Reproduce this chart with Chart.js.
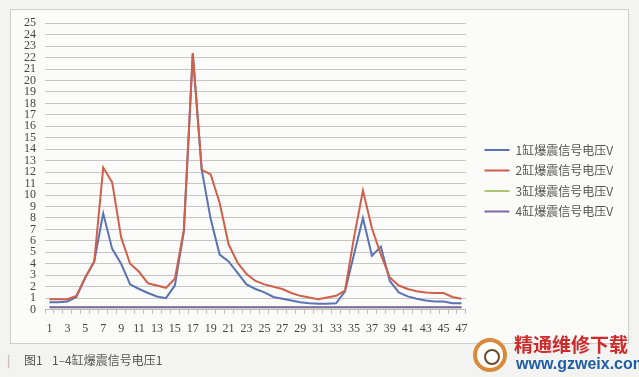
<!DOCTYPE html>
<html>
<head>
<meta charset="utf-8">
<script src="https://cdn.jsdelivr.net/npm/chart.js@4.4.1/dist/chart.umd.min.js"></script>
<style>
  html, body { margin:0; padding:0; }
  body { width:639px; height:377px; background:#f3f3f1; position:relative; overflow:hidden; font-family:"Noto Sans CJK SC", sans-serif; }
  #frame { position:absolute; left:10px; top:9px; width:617px; height:333px; border:1px solid #cfcfcf; background:#fbfbfa; }
  #c { position:absolute; left:0; top:-3px; }
  .cap { position:absolute; top:351px; font-size:12px; color:#555; white-space:pre; }
  #logo { position:absolute; left:473px; top:338px; width:34px; height:34px; border-radius:50%; border:4px solid #d98a3c; box-sizing:border-box; background:#fff; }
  #logo::after { content:""; position:absolute; left:7px; top:7px; width:12px; height:12px; border-radius:50%; border:2px solid #6b4a2a; }
  #wm1 { position:absolute; left:514px; top:330px; font-size:19px; font-weight:bold; color:#cf2a2a; }
  #wm2 { position:absolute; left:516px; top:355px; font-size:16px; font-weight:bold; color:#1f5ea6; font-family:"Liberation Sans Narrow", "Liberation Sans", sans-serif; }
</style>
</head>
<body>
<div id="frame"><canvas id="c" width="617" height="345"></canvas></div>
<div class="cap" style="left:7px;color:#aaa;">|</div>
<div class="cap" style="left:24px;">图1</div>
<div class="cap" style="left:52px;">1–4缸爆震信号电压1</div>
<div id="logo"></div>
<div id="wm1">精通维修下载</div>
<div id="wm2">www.gzweix.com</div>
<script>
const categories = [];
for (let i = 1; i <= 47; i++) categories.push(String(i));

const seriesNames = ["1缸爆震信号电压V", "2缸爆震信号电压V", "3缸爆震信号电压V", "4缸爆震信号电压V"];

const cyl1 = [0.65,0.65,0.7,1.1,2.8,4.2,8.4,5.3,4.0,2.2,
              1.8,1.45,1.15,1.0,2.1,6.8,22.3,12.2,7.9,4.8,
              4.2,3.2,2.2,1.8,1.5,1.1,0.95,0.8,0.65,0.55,
              0.5,0.5,0.55,1.6,4.8,8.0,4.7,5.5,2.5,1.5,
              1.15,0.95,0.8,0.7,0.7,0.55,0.55];
const cyl2 = [0.9,0.9,0.9,1.2,2.8,4.2,12.4,11.1,6.3,4.0,
              3.3,2.3,2.1,1.9,2.7,6.9,22.4,12.2,11.8,9.3,
              5.7,4.1,3.1,2.5,2.2,2.0,1.8,1.45,1.2,1.05,
              0.9,1.05,1.2,1.65,6.3,10.4,7.1,4.8,2.8,2.1,
              1.8,1.6,1.5,1.45,1.45,1.1,0.95];
const cyl3 = [0.2,0.2,0.2,0.2,0.2,0.2,0.2,0.2,0.2,0.2,
              0.2,0.2,0.2,0.2,0.2,0.2,0.2,0.2,0.2,0.2,
              0.2,0.2,0.2,0.2,0.2,0.2,0.2,0.2,0.2,0.2,
              0.2,0.2,0.2,0.2,0.2,0.2,0.2,0.2,0.2,0.2,
              0.2,0.2,0.2,0.2,0.2,0.2,0.2];
const cyl4 = [0.2,0.2,0.2,0.2,0.2,0.2,0.2,0.2,0.2,0.2,
              0.2,0.2,0.2,0.2,0.2,0.2,0.2,0.2,0.2,0.2,
              0.2,0.2,0.2,0.2,0.2,0.2,0.2,0.2,0.2,0.2,
              0.2,0.2,0.2,0.2,0.2,0.2,0.2,0.2,0.2,0.2,
              0.2,0.2,0.2,0.2,0.2,0.2,0.2];
const yTicks = [0,1,2,3,4,5,6,7,8,9,10,11,12,13,14,15,16,17,18,19,20,21,22,23,24,25];

const colors = ["#5a73b4", "#d0604a", "#aec472", "#7f6aa6"];
const values = [cyl1, cyl2, cyl3, cyl4];

const legendPlace = {
  id: "legendPlace",
  afterLayout(chart) {
    const lg = chart.legend;
    if (!lg) return;
    const left = 465, top = 128.5;
    const w = lg.width;
    lg.left = left; lg.right = left + w;
    lg.top = top; lg.bottom = top + 150; lg.height = 150;
  }
};

new Chart(document.getElementById("c"), {
  type: "line",
  data: {
    labels: categories,
    datasets: values.map((v, i) => ({
      label: seriesNames[i],
      data: v,
      borderColor: colors[i],
      backgroundColor: colors[i],
      borderWidth: 2,
      pointRadius: 0,
      tension: 0,
      fill: false,
      order: 4 - i
    }))
  },
  options: {
    responsive: false,
    animation: false,
    devicePixelRatio: 1,
    layout: { padding: { left: 4, top: 4, right: 15, bottom: 8 } },
    plugins: {
      tooltip: { enabled: false },
      legend: {
        position: "right",
        align: "start",
        labels: {
          usePointStyle: true,
          pointStyle: "line",
          pointStyleWidth: 25,
          boxHeight: 13,
          padding: 8.5,
          color: "#555",
          font: { family: "'Noto Sans CJK SC', sans-serif", size: 12 },
          sort: (a, b) => a.datasetIndex - b.datasetIndex
        }
      }
    },
    scales: {
      x: {
        offset: true,
        grid: { display: true, drawOnChartArea: false, drawTicks: true, tickLength: 4, color: "#bdbdbd", offset: true },
        border: { display: true, color: "#bdbdbd" },
        ticks: {
          autoSkip: false, maxRotation: 0, minRotation: 0, padding: 8,
          color: "#444",
          font: { family: "'Liberation Serif', serif", size: 12 },
          callback: (val, idx) => (idx % 2 === 0 ? categories[idx] : "")
        }
      },
      y: {
        min: 0, max: 25,
        afterBuildTicks: (s) => { s.ticks = yTicks.map(v => ({ value: v })); },
        grid: { color: "#c6c6c6", drawTicks: false },
        border: { display: false },
        ticks: {
          autoSkip: false,
          padding: 9,
          color: "#444",
          font: { family: "'Liberation Serif', serif", size: 12 }
        }
      }
    }
  },
  plugins: [legendPlace]
});
</script>
</body>
</html>
